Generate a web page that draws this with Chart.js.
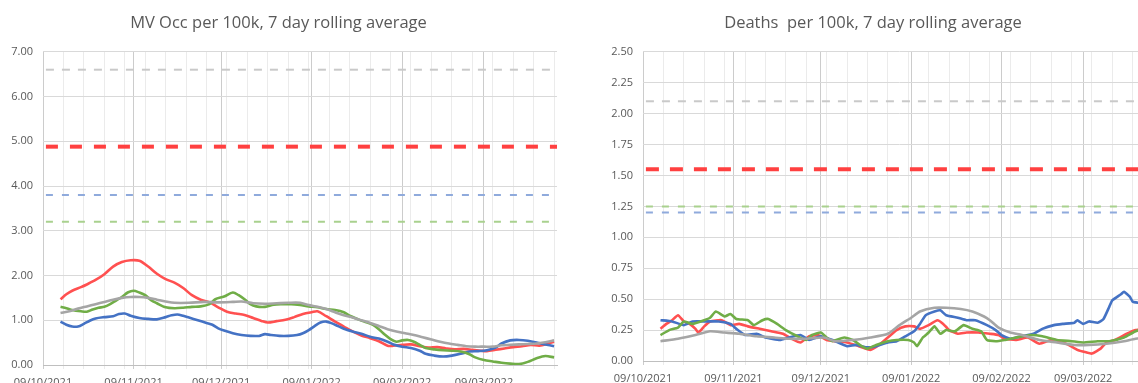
<!DOCTYPE html>
<html>
<head>
<meta charset="utf-8">
<script src="https://cdn.jsdelivr.net/npm/chart.js@4.4.1/dist/chart.umd.min.js"></script>
<style>
  html, body { margin: 0; padding: 0; background: #fff; overflow: hidden; width: 1138px; height: 383px; }
  #occ { position: absolute; left: 0; top: 0; }
  #deaths { position: absolute; left: 590px; top: 0; }
</style>
</head>
<body>
<canvas id="occ" width="570" height="400"></canvas>
<canvas id="deaths" width="575" height="400"></canvas>
<script>
// days counted from 09/10/2021
const monthDays = [0, 31, 61, 92, 123, 151];
const monthLabels = ["09/10/2021", "09/11/2021", "09/12/2021", "09/01/2022", "09/02/2022", "09/03/2022"];
const lastDay = 176;

// MV occupancy per 100k, [day, value]
const occRed = [[6,1.47],[8,1.58],[10,1.66],[13,1.74],[15,1.80],[18,1.90],[21,2.03],[24,2.20],[27,2.30],[30,2.34],[33,2.33],[36,2.20],[39,2.04],[42,1.92],[45,1.84],[48,1.72],[51,1.56],[54,1.46],[57,1.40],[60,1.29],[63,1.19],[66,1.15],[69,1.12],[72,1.05],[75,0.98],[77,0.95],[80,0.98],[83,1.01],[86,1.07],[89,1.14],[92,1.18],[94,1.20],[97,1.09],[100,0.97],[103,0.86],[106,0.75],[109,0.66],[112,0.60],[115,0.53],[118,0.43],[120,0.43],[123,0.45],[126,0.46],[129,0.42],[132,0.39],[135,0.40],[138,0.37],[141,0.35],[144,0.36],[147,0.34],[150,0.32],[152,0.31],[155,0.34],[158,0.37],[161,0.40],[164,0.42],[167,0.45],[170,0.43],[173,0.48],[175,0.52]];
const occGreen = [[6,1.30],[8,1.27],[10,1.23],[13,1.20],[15,1.19],[17,1.24],[19,1.28],[21,1.30],[23,1.36],[25,1.44],[27,1.52],[29,1.62],[31,1.66],[33,1.62],[35,1.56],[37,1.45],[39,1.38],[42,1.29],[45,1.27],[48,1.28],[51,1.30],[54,1.31],[57,1.36],[59,1.47],[62,1.53],[65,1.62],[67,1.56],[69,1.47],[71,1.36],[73,1.31],[76,1.30],[79,1.35],[82,1.36],[85,1.36],[88,1.34],[91,1.31],[94,1.29],[97,1.25],[100,1.23],[103,1.18],[105,1.10],[108,1.02],[110,0.97],[113,0.90],[115,0.80],[117,0.68],[119,0.58],[121,0.52],[123,0.55],[125,0.56],[127,0.52],[129,0.45],[131,0.38],[134,0.35],[137,0.33],[140,0.32],[143,0.30],[146,0.24],[148,0.17],[151,0.11],[154,0.08],[157,0.05],[160,0.03],[163,0.02],[166,0.07],[169,0.15],[172,0.20],[175,0.17]];
const occBlue = [[6,0.97],[8,0.90],[10,0.86],[12,0.86],[14,0.92],[16,0.99],[18,1.04],[21,1.07],[24,1.09],[26,1.14],[28,1.15],[30,1.10],[33,1.05],[36,1.03],[39,1.02],[42,1.07],[44,1.11],[46,1.13],[48,1.10],[50,1.06],[53,1.00],[56,0.94],[58,0.90],[60,0.82],[62,0.77],[65,0.71],[68,0.67],[71,0.65],[74,0.65],[76,0.69],[78,0.67],[81,0.65],[84,0.65],[87,0.67],[89,0.71],[91,0.78],[93,0.87],[95,0.95],[97,0.97],[99,0.93],[101,0.87],[103,0.81],[106,0.75],[109,0.70],[112,0.63],[115,0.59],[118,0.52],[120,0.46],[123,0.41],[126,0.38],[129,0.32],[131,0.25],[134,0.21],[137,0.19],[140,0.21],[143,0.25],[146,0.30],[149,0.31],[152,0.33],[155,0.39],[157,0.48],[160,0.55],[163,0.56],[166,0.54],[169,0.50],[172,0.46],[175,0.42]];
const occGrey = [[6,1.16],[9,1.20],[12,1.26],[15,1.31],[18,1.36],[21,1.41],[24,1.46],[27,1.50],[30,1.52],[33,1.52],[36,1.50],[39,1.46],[42,1.42],[45,1.39],[50,1.39],[55,1.41],[60,1.40],[65,1.41],[68,1.42],[72,1.38],[76,1.37],[80,1.38],[84,1.39],[88,1.39],[91,1.34],[94,1.30],[97,1.25],[100,1.18],[103,1.11],[106,1.06],[109,1.00],[112,0.94],[115,0.87],[118,0.80],[121,0.75],[124,0.71],[127,0.67],[130,0.62],[133,0.57],[136,0.52],[139,0.48],[142,0.45],[145,0.42],[148,0.41],[151,0.41],[154,0.41],[157,0.44],[160,0.45],[163,0.46],[166,0.47],[169,0.48],[172,0.51],[175,0.55]];
// thresholds: grey, red, blue, green
const occLimits = [6.60, 4.88, 3.80, 3.20];

// Deaths per 100k, [day, value]
const dthRed = [[6,0.26],[8,0.30],[10,0.33],[12,0.37],[14,0.32],[16,0.30],[18,0.26],[19,0.23],[21,0.28],[23,0.32],[27,0.33],[30,0.29],[33,0.30],[36,0.28],[40,0.26],[44,0.24],[48,0.22],[51,0.18],[54,0.15],[57,0.20],[60,0.21],[63,0.17],[66,0.16],[70,0.15],[74,0.12],[78,0.09],[81,0.13],[84,0.19],[87,0.25],[90,0.28],[93,0.28],[95,0.26],[98,0.29],[101,0.33],[103,0.30],[105,0.25],[108,0.22],[111,0.23],[115,0.23],[119,0.22],[122,0.21],[124,0.18],[128,0.17],[132,0.19],[136,0.14],[140,0.17],[143,0.16],[146,0.13],[149,0.09],[152,0.07],[154,0.06],[157,0.10],[159,0.15],[162,0.17],[166,0.22],[169,0.25],[172,0.26],[175,0.27]];
const dthGreen = [[6,0.21],[9,0.25],[12,0.27],[14,0.32],[17,0.30],[21,0.33],[23,0.35],[25,0.40],[28,0.36],[30,0.38],[32,0.34],[36,0.33],[38,0.29],[41,0.33],[43,0.34],[46,0.30],[49,0.25],[53,0.20],[56,0.17],[58,0.21],[61,0.23],[63,0.19],[65,0.16],[69,0.19],[72,0.17],[75,0.12],[77,0.10],[80,0.13],[84,0.16],[87,0.17],[91,0.17],[93,0.15],[94,0.12],[96,0.19],[98,0.23],[100,0.28],[102,0.22],[104,0.25],[107,0.24],[110,0.29],[113,0.26],[116,0.24],[118,0.17],[121,0.16],[124,0.17],[128,0.19],[133,0.21],[137,0.20],[142,0.17],[147,0.16],[151,0.15],[156,0.16],[160,0.16],[165,0.19],[169,0.24],[172,0.26],[175,0.27]];
const dthBlue = [[6,0.33],[10,0.32],[14,0.29],[17,0.32],[22,0.32],[26,0.32],[30,0.30],[32,0.26],[35,0.21],[39,0.22],[42,0.19],[47,0.17],[50,0.19],[54,0.21],[57,0.17],[61,0.20],[65,0.17],[70,0.12],[73,0.13],[77,0.11],[80,0.12],[84,0.15],[87,0.16],[90,0.20],[93,0.24],[95,0.30],[97,0.37],[100,0.40],[102,0.41],[104,0.37],[108,0.35],[111,0.33],[114,0.33],[118,0.29],[121,0.25],[123,0.21],[126,0.18],[130,0.20],[134,0.22],[137,0.26],[141,0.29],[144,0.30],[148,0.31],[149,0.33],[151,0.30],[153,0.32],[156,0.31],[158,0.34],[160,0.44],[161,0.49],[164,0.54],[165,0.56],[167,0.52],[168,0.48],[170,0.47],[173,0.46],[175,0.47]];
const dthGrey = [[6,0.16],[12,0.18],[18,0.21],[23,0.24],[28,0.23],[33,0.22],[39,0.20],[45,0.19],[50,0.18],[56,0.18],[62,0.19],[66,0.16],[72,0.17],[78,0.19],[84,0.22],[88,0.29],[92,0.35],[95,0.40],[100,0.43],[104,0.43],[109,0.42],[113,0.40],[117,0.36],[119,0.33],[122,0.27],[126,0.23],[130,0.21],[136,0.17],[142,0.15],[148,0.13],[153,0.13],[159,0.14],[165,0.16],[169,0.18],[175,0.19]];
const dthLimits = [2.10, 1.55, 1.20, 1.25];

const red = "#ff5050", green = "#70ad47", blue = "#4472c4", grey = "#a5a5a5";
const textColor = "#595959";
const font = "'Open Sans', sans-serif";

// weekly minor grid + monthly labelled ticks
let gridDays = [];
for (let d = 0; d <= lastDay; d += 7) gridDays.push(d);
gridDays = [...new Set(gridDays.concat(monthDays))].sort((a, b) => a - b);

function line(points, color, tension) {
    return {
        data: points.map(p => ({ x: p[0], y: p[1] })),
        borderColor: color, borderWidth: 2.6, pointRadius: 0, tension: tension
    };
}

function limit(value, color, width, dash) {
    return {
        data: [{ x: 1, y: value }, { x: lastDay, y: value }],
        borderColor: color, borderWidth: width, borderDash: dash, pointRadius: 0
    };
}

function makeChart(id, title, yMax, yStep, yWidth, xHeight, padRight, datasets) {
    new Chart(document.getElementById(id), {
        type: "line",
        data: { datasets: datasets },
        options: {
            responsive: false,
            devicePixelRatio: 1,
            animation: false,
            layout: { padding: { left: 0, right: padRight, top: 0, bottom: 0 } },
            plugins: {
                legend: { display: false },
                tooltip: { enabled: false },
                title: {
                    display: true, text: title, color: textColor,
                    font: { family: font, size: 16.5, weight: "normal" },
                    padding: { top: 13, bottom: 19 }
                }
            },
            scales: {
                x: {
                    type: "linear", min: 0, max: lastDay,
                    afterBuildTicks: s => { s.ticks = gridDays.map(v => ({ value: v })); },
                    afterFit: s => { s.height = xHeight; },
                    ticks: {
                        autoSkip: false, maxRotation: 0, padding: 7, color: textColor,
                        font: { family: font, size: 11 },
                        callback: v => { const i = monthDays.indexOf(v); return i < 0 ? "" : monthLabels[i]; }
                    },
                    grid: {
                        color: c => (c.tick && monthDays.includes(c.tick.value)) ? "#cccccc" : "#ebebeb",
                        tickLength: 4
                    },
                    border: { color: "#bfbfbf" }
                },
                y: {
                    min: 0, max: yMax,
                    afterFit: s => { s.width = yWidth; },
                    ticks: {
                        stepSize: yStep, padding: 10, color: textColor,
                        font: { family: font, size: 11 },
                        callback: v => v.toFixed(2)
                    },
                    grid: { color: "#d9d9d9", drawTicks: false },
                    border: { display: false }
                }
            }
        }
    });
}

makeChart("occ", "MV Occ per 100k, 7 day rolling average", 7, 1, 43, 35, 13, [
    limit(occLimits[0], "#c9c9c9", 2, [8, 8]),
    limit(occLimits[1], "#ff4040", 4, [12, 12]),
    limit(occLimits[2], "#8faadc", 2, [7, 9]),
    limit(occLimits[3], "#a9d18e", 2, [7, 9]),
    line(occGrey, grey, 0.3),
    line(occGreen, green, 0.3),
    line(occBlue, blue, 0.3),
    line(occRed, red, 0.3)
]);

makeChart("deaths", "Deaths  per 100k, 7 day rolling average", 2.5, 0.25, 53, 39, 9, [
    limit(dthLimits[0], "#c9c9c9", 2, [8, 8]),
    limit(dthLimits[1], "#ff4040", 4, [13, 11]),
    limit(dthLimits[2], "#8faadc", 2, [7, 9]),
    limit(dthLimits[3], "#a9d18e", 2, [7, 9]),
    line(dthGrey, grey, 0.2),
    line(dthGreen, green, 0.15),
    line(dthBlue, blue, 0.15),
    line(dthRed, red, 0.15)
]);
</script>
</body>
</html>
